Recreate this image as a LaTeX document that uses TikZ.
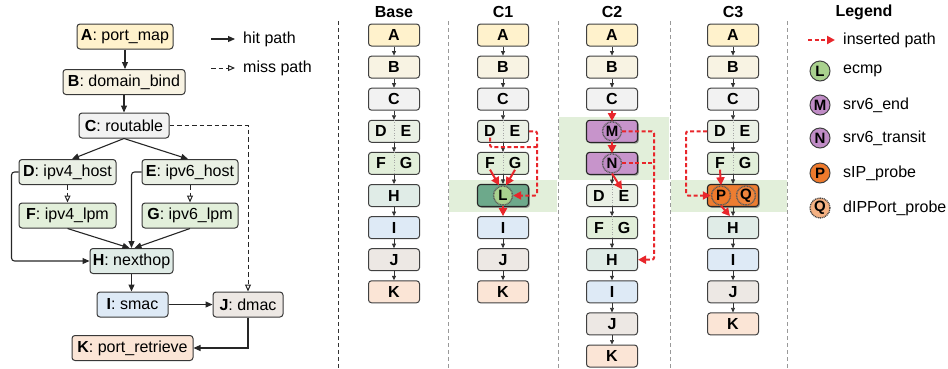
\documentclass[tikz,border=0pt]{standalone}
\usepackage{fontspec}
\setmainfont{Liberation Sans}
\usetikzlibrary{arrows.meta,shadows}
\definecolor{cA}{HTML}{FFF2CC}
\definecolor{cB}{HTML}{F8F3E3}
\definecolor{cC}{HTML}{F2F2F2}
\definecolor{cD}{HTML}{EAF0E5}
\definecolor{cF}{HTML}{E2EFDA}
\definecolor{cH}{HTML}{E0ECE7}
\definecolor{cI}{HTML}{DEEAF6}
\definecolor{cJ}{HTML}{EDE8E4}
\definecolor{cK}{HTML}{FBE5D6}
\definecolor{cBand}{HTML}{E2EFDA}
\definecolor{cLbox}{HTML}{6DA98B}
\definecolor{cLc}{HTML}{A9D18E}
\definecolor{cMbox}{HTML}{C794CB}
\definecolor{cMc}{HTML}{C08CC6}
\definecolor{cPbox}{HTML}{ED7D31}
\definecolor{cPc}{HTML}{EE7A2C}
\definecolor{cQc}{HTML}{F4B183}
\definecolor{cR}{HTML}{E8262B}
\newcommand{\myfs}{\fontsize{16}{19}\selectfont}
\newcommand{\pairbox}[6]{%
  \node[cbox, fill=#4] (#1) at (#2,#3) {};
  \draw[dotline] (#1.north) -- (#1.south);
  \node[ltr] (#1-l) at ([xshift=-13pt]#1.center) {#5};
  \node[ltr] (#1-r) at ([xshift=12pt]#1.center) {#6};
}
\begin{document}
\begin{tikzpicture}[x=1pt,y=-1pt,
  fbox/.style={draw=black!78, line width=1pt, rounded corners=3pt, minimum height=25pt, inner sep=0pt, font=\myfs},
  cbox/.style={draw=black!75, line width=1pt, rounded corners=3pt, minimum height=22pt, minimum width=51pt, inner sep=0pt, font=\bfseries\myfs},
  hbox/.style={cbox, line width=1.1pt, draw=black!85, drop shadow={shadow xshift=1.3pt, shadow yshift=-1.3pt, opacity=0.75}},
  ltr/.style={inner sep=0.5pt, font=\bfseries\myfs},
  dotline/.style={draw=black!35, line width=0.6pt, dotted},
  hit/.style={draw=black!85, line width=1.1pt, -{Triangle[length=7pt,width=6pt]}},
  miss/.style={draw=black!85, line width=1pt, dash pattern=on 4.5pt off 3pt, -{Triangle[open,length=7pt,width=6pt,line width=1pt]}},
  sarr/.style={draw=black!80, line width=0.7pt, -{Triangle[length=4.5pt,width=4pt]}},
  insp/.style={draw=cR, line width=2pt, dash pattern=on 4pt off 2.5pt},
  ins/.style={insp, -{Triangle[length=8pt,width=8pt]}},
  inss/.style={draw=cR, line width=2pt, -{Triangle[length=8pt,width=8pt]}},
  icirc/.style={circle, minimum size=19pt, inner sep=0pt, draw=black!65, line width=1.4pt, dash pattern=on 0.9pt off 0.7pt, font=\bfseries\fontsize{15}{16}\selectfont},
  lcirc/.style={circle, minimum size=20pt, inner sep=0pt, draw=black!75, line width=1pt, font=\bfseries\fontsize{15}{16}\selectfont},
  sepd/.style={draw=black!80, line width=0.9pt, dash pattern=on 4pt off 3pt},
  sepl/.style={draw=black!40, line width=0.9pt, dash pattern=on 4pt off 3pt},
  hdr/.style={font=\bfseries\myfs, inner sep=1pt},
  txt/.style={font=\myfs, inner sep=1pt, anchor=west}
]
\useasboundingbox (0,0) rectangle (948,368);
% ---------- bands ----------
\fill[cBand] (449,180) rectangle (557,212);
\fill[cBand] (559,117) rectangle (669,180);
\fill[cBand] (671,180) rectangle (787,212);
% ---------- separators ----------
\draw[sepd] (338,21) -- (338,368);
\draw[sepl] (448,21) -- (448,368);
\draw[sepl] (558,21) -- (558,368);
\draw[sepl] (670,21) -- (670,368);
\draw[sepl] (787,21) -- (787,368);
% ---------- left flowchart ----------
\node[fbox, fill=cA, minimum width=96pt]  (A) at (125,36.5) {\textbf{A}: port\_map};
\node[fbox, fill=cB, minimum width=122pt] (B) at (124,82) {\textbf{B}: domain\_bind};
\node[fbox, fill=cC, minimum width=90pt]  (C) at (124,125.5) {\textbf{C}: routable};
\node[fbox, fill=cD, minimum width=97pt]  (D) at (67.5,172) {\textbf{D}: ipv4\_host};
\node[fbox, fill=cD, minimum width=96pt]  (E) at (190,172) {\textbf{E}: ipv6\_host};
\node[fbox, fill=cF, minimum width=97pt]  (F) at (67.5,215.5) {\textbf{F}: ipv4\_lpm};
\node[fbox, fill=cF, minimum width=96pt]  (G) at (190,215.5) {\textbf{G}: ipv6\_lpm};
\node[fbox, fill=cH, minimum width=83pt]  (H) at (131.5,261) {\textbf{H}: nexthop};
\node[fbox, fill=cI, minimum width=71pt]  (I) at (132.5,304.5) {\textbf{I}: smac};
\node[fbox, fill=cJ, minimum width=70pt]  (J) at (248,304.5) {\textbf{J}: dmac};
\node[fbox, fill=cK, minimum width=121pt] (K) at (132.5,348) {\textbf{K}: port\_retrieve};
\draw[hit] (A.south) -- (A.south |- B.north);
\draw[hit] (B.south) -- (B.south |- C.north);
\draw[hit] (C.south) -- ([xshift=4.5pt]D.north);
\draw[hit] (C.south) -- ([xshift=-2pt]E.north);
\draw[miss] (D.south) -- (F.north);
\draw[miss] (E.south) -- (G.north);
\draw[hit, rounded corners=3pt] (D.west) -- ++(-7,0) |- (H.west);
\draw[hit, rounded corners=3pt] (E.west) -| (H.north);
\draw[hit] (F.south) -- ([xshift=-2pt]H.north);
\draw[hit] (G.south) -- ([xshift=3pt]H.north);
\draw[hit] (H.south) -- (H.south |- I.north);
\draw[hit] (I.east) -- (J.west);
\draw[hit] (J.south) |- (K.east);
\draw[miss] (C.east) -| (J.north);
% legend left
\coordinate (hs) at (211,39); \coordinate (he) at (235,39);
\coordinate (ms) at (211,68); \coordinate (me) at (235,68);
\draw[hit] (hs) -- (he);
\draw[miss] (ms) -- (me);
\node[txt] (ht) at (242,39) {hit path};
\node[txt] (mt) at (242,68) {miss path};
% ---------- column headers ----------
\node[hdr] (hb) at (394,12) {Base};
\node[hdr] (h1) at (503,12) {C1};
\node[hdr] (h2) at (612,12) {C2};
\node[hdr] (h3) at (733,12) {C3};
% ---------- common top rows ----------
\foreach \col/\x in {b/394,c1/503,c2/612,c3/733} {
  \node[cbox, fill=cA] (\col A) at (\x,35) {A};
  \node[cbox, fill=cB] (\col B) at (\x,67.1) {B};
  \node[cbox, fill=cC] (\col C) at (\x,99.2) {C};
  \draw[sarr] (\col A) -- (\col B);
  \draw[sarr] (\col B) -- (\col C);
}
% ---------- Base ----------
\pairbox{bDE}{394}{131.3}{cD}{D}{E}
\pairbox{bFG}{394}{163.4}{cF}{F}{G}
\node[cbox, fill=cH] (bH) at (394,195.5) {H};
\node[cbox, fill=cI] (bI) at (394,227.6) {I};
\node[cbox, fill=cJ] (bJ) at (394,259.7) {J};
\node[cbox, fill=cK] (bK) at (394,291.8) {K};
\draw[sarr] (bC) -- (bDE);
\draw[sarr] (bDE) -- (bFG);
\draw[sarr] (bFG) -- (bH);
\draw[sarr] (bH) -- (bI);
\draw[sarr] (bI) -- (bJ);
\draw[sarr] (bJ) -- (bK);
% ---------- C1 ----------
\pairbox{c1DE}{503}{131.3}{cD}{D}{E}
\pairbox{c1FG}{503}{163.4}{cF}{F}{G}
\node[hbox, fill=cLbox] (c1L) at (503,195.5) {};
\node[icirc, fill=cLc] (c1Lc) at (503,195.5) {L};
\node[cbox, fill=cI] (c1I) at (503,227.6) {I};
\node[cbox, fill=cJ] (c1J) at (503,259.7) {J};
\node[cbox, fill=cK] (c1K) at (503,291.8) {K};
\draw[sarr] (c1C) -- (c1DE);
\draw[sarr] (c1DE) -- (c1FG);
\draw[sarr] (c1FG) -- (c1L);
\draw[sarr] (c1I) -- (c1J);
\draw[sarr] (c1J) -- (c1K);
\coordinate (c1r) at (537,131.3);
\coordinate (c1j) at (537,147);
\draw[insp, rounded corners=2pt] (c1DE-l.south) |- (c1j);
\draw[ins, rounded corners=2pt] (c1DE.east) -| (c1r |- c1Lc.east) -- (c1Lc.east);
\draw[inss] (c1FG-l.south) -- ([xshift=-4pt]c1Lc.north);
\draw[inss] (c1FG-r.south) -- ([xshift=3pt]c1Lc.north);
\draw[inss] (c1Lc.south) -- (c1I.north);
% ---------- C2 ----------
\node[hbox, fill=cMbox] (c2M) at (612,131.3) {};
\node[icirc, fill=cMc] (c2Mc) at (612,131.3) {M};
\node[hbox, fill=cMbox] (c2N) at (612,163.4) {};
\node[icirc, fill=cMc] (c2Nc) at (612,163.4) {N};
\pairbox{c2DE}{612}{195.5}{cD}{D}{E}
\pairbox{c2FG}{612}{227.6}{cF}{F}{G}
\node[cbox, fill=cH] (c2H) at (612,259.7) {H};
\node[cbox, fill=cI] (c2I) at (612,291.8) {I};
\node[cbox, fill=cJ] (c2J) at (612,323.9) {J};
\node[cbox, fill=cK] (c2K) at (612,356) {K};
\draw[sarr] (c2N) -- (c2DE);
\draw[sarr] (c2DE) -- (c2FG);
\draw[sarr] (c2FG) -- (c2H);
\draw[sarr] (c2H) -- (c2I);
\draw[sarr] (c2I) -- (c2J);
\draw[sarr] (c2J) -- (c2K);
\coordinate (c2r) at (654,131.3);
\draw[inss] (c2C.south) -- (c2Mc.north);
\draw[inss] (c2Mc.south) -- (c2Nc.north);
\draw[inss] (c2Nc.south) -- ([xshift=-2pt]c2DE-r.north);
\draw[ins, rounded corners=2pt] (c2Mc.east) -| (c2r |- c2H.east) -- (c2H.east);
\draw[insp] (c2Nc.east) -- (c2r |- c2Nc.east);
% ---------- C3 ----------
\pairbox{c3DE}{733}{131.3}{cD}{D}{E}
\pairbox{c3FG}{733}{163.4}{cF}{F}{G}
\node[hbox, fill=cPbox] (c3PQ) at (733,195.5) {};
\node[icirc, fill=cPc] (c3Pc) at (721,195.5) {P};
\node[icirc, fill=cPbox!85!cQc] (c3Qc) at (746,195.5) {Q};
\node[cbox, fill=cH] (c3H) at (733,227.6) {H};
\node[cbox, fill=cI] (c3I) at (733,259.7) {I};
\node[cbox, fill=cJ] (c3J) at (733,291.8) {J};
\node[cbox, fill=cK] (c3K) at (733,323.9) {K};
\draw[sarr] (c3C) -- (c3DE);
\draw[sarr] (c3DE) -- (c3FG);
\draw[sarr] (c3FG) -- (c3PQ);
\draw[sarr] (c3PQ) -- (c3H);
\draw[sarr] (c3H) -- (c3I);
\draw[sarr] (c3I) -- (c3J);
\draw[sarr] (c3J) -- (c3K);
\coordinate (c3l) at (686,131.3);
\draw[ins, rounded corners=2pt] (c3DE.west) -| (c3l |- c3Pc.west) -- (c3Pc.west);
\draw[inss] (c3FG-l.south) -- (c3Pc.north);
\draw[inss] (c3Pc.south) -- ([xshift=-3pt]c3H.north);
% ---------- Legend ----------
\node[hdr] (lg) at (864,12.5) {Legend};
\coordinate (is) at (808,40); \coordinate (ie) at (835,40);
\draw[ins] (is) -- (ie);
\node[txt] (it) at (842,40) {inserted path};
\node[lcirc, fill=cLc] (lL) at (820,71) {L};
\node[txt] (tL) at (842,71) {ecmp};
\node[lcirc, fill=cMc] (lM) at (820,105) {M};
\node[txt] (tM) at (842,105) {srv6\_end};
\node[lcirc, fill=cMc] (lN) at (820,138) {N};
\node[txt] (tN) at (842,138) {srv6\_transit};
\node[lcirc, fill=cPc] (lP) at (820,173) {P};
\node[txt] (tP) at (842,173) {sIP\_probe};
\node[lcirc, fill=cQc, dash pattern=on 1pt off 0.8pt, line width=1.3pt] (lQ) at (820,208) {Q};
\node[txt] (tQ) at (842,208) {dIPPort\_probe};
\end{tikzpicture}
\end{document}
